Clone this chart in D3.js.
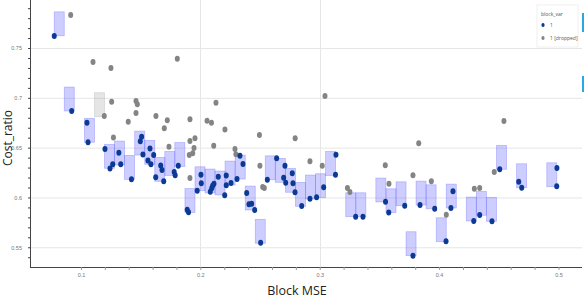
<!DOCTYPE html>
<html>
<head>
<meta charset="utf-8">
<script src="https://cdn.jsdelivr.net/npm/d3@7"></script>
<style>
  body { margin: 0; background: #fff; }
  svg { display: block; font-family: "Open Sans", sans-serif; }
</style>
</head>
<body>
<div id="vis"></div>
<script>
var width = 584,
    height = 298;

// tick labels
var xTicks = [0.1, 0.2, 0.3, 0.4, 0.5];
var yTicks = [0.55, 0.6, 0.65, 0.7, 0.75];

// bins: left edge (Block MSE) and lower Cost_ratio, dropped flag
var binX = [0.0776, 0.0860, 0.1113, 0.1029, 0.1197, 0.1281, 0.1365, 0.1450, 0.1534, 0.1618,
            0.1702, 0.1786, 0.1871, 0.1955, 0.2039, 0.2123, 0.2207, 0.2292, 0.2376, 0.2460,
            0.2544, 0.2628, 0.2713, 0.2797, 0.2881, 0.2965, 0.3049, 0.3218, 0.3302, 0.3470,
            0.3555, 0.3639, 0.3723, 0.3807, 0.3891, 0.3976, 0.4060, 0.4228, 0.4312, 0.4397,
            0.4481, 0.4649, 0.4902];
var binLo = [0.7623, 0.6868, 0.6811, 0.6554, 0.6293, 0.6326, 0.6182, 0.6426, 0.6333, 0.6162,
             0.6221, 0.6311, 0.5849, 0.6068, 0.6045, 0.6025, 0.6125, 0.6185, 0.5874, 0.5540,
             0.6178, 0.6152, 0.6052, 0.5911, 0.5985, 0.5998, 0.6221, 0.5807, 0.5807, 0.5955,
             0.5847, 0.5917, 0.5416, 0.5924, 0.5887, 0.5556, 0.5894, 0.5764, 0.5821, 0.5761,
             0.6283, 0.6098, 0.6108];
var binDropped = [2];
var binW = 0.0084, binH = 0.024;

// kept points (block_var = 1)
var keptX = [0.0776, 0.0922, 0.1050, 0.1059, 0.1201, 0.1243, 0.1266, 0.1317, 0.1333, 0.1423,
             0.1508, 0.1497, 0.1519, 0.1578, 0.1609, 0.1561, 0.1586, 0.1668, 0.1679, 0.1626,
             0.1693, 0.1781, 0.1789, 0.1815, 0.1890, 0.1901, 0.2005, 0.2008, 0.1974, 0.2114,
             0.2103, 0.2095, 0.2083, 0.2150, 0.2204, 0.2217, 0.2217, 0.2257, 0.2332, 0.2357,
             0.2307, 0.2388, 0.2407, 0.2430, 0.2455, 0.2505, 0.2561, 0.2639, 0.2709, 0.2698,
             0.2715, 0.2770, 0.2776, 0.2793, 0.2849, 0.2918, 0.2974, 0.3033, 0.3136, 0.3132,
             0.3301, 0.3362, 0.3551, 0.3578, 0.3712, 0.3781, 0.3840, 0.3963, 0.4058, 0.4116,
             0.4099, 0.4290, 0.4340, 0.4443, 0.4508, 0.4667, 0.4692, 0.4987, 0.4985];
var keptY = [0.7620, 0.6868, 0.6750, 0.6555, 0.6486, 0.6291, 0.6333, 0.6449, 0.6333, 0.6182,
             0.6610, 0.6564, 0.6431, 0.6491, 0.6426, 0.6371, 0.6333, 0.6321, 0.6276, 0.6202,
             0.6163, 0.6256, 0.6224, 0.6319, 0.5877, 0.5851, 0.6229, 0.6142, 0.6068, 0.6138,
             0.6118, 0.6092, 0.6058, 0.6208, 0.6023, 0.6221, 0.6123, 0.6145, 0.6419, 0.6336,
             0.6185, 0.6045, 0.5932, 0.5938, 0.5874, 0.5546, 0.6178, 0.6393, 0.6319, 0.6198,
             0.6148, 0.6243, 0.6142, 0.6052, 0.5914, 0.5988, 0.6002, 0.6102, 0.6428, 0.6228,
             0.5807, 0.5807, 0.5957, 0.5849, 0.5917, 0.5416, 0.5924, 0.5887, 0.5560, 0.6062,
             0.5894, 0.5764, 0.5824, 0.5761, 0.6283, 0.6158, 0.6098, 0.6296, 0.6112];

// dropped points
var dropX = [0.0914, 0.1101, 0.1251, 0.1807, 0.1195, 0.1257, 0.1461, 0.1472, 0.1461, 0.1396,
             0.1628, 0.1723, 0.1698, 0.1272, 0.1913, 0.2056, 0.2093, 0.2131, 0.2206, 0.1913,
             0.1955, 0.1737, 0.1947, 0.1936, 0.1907, 0.2112, 0.1913, 0.2495, 0.2794, 0.3044,
             0.2290, 0.2298, 0.2499, 0.2522, 0.2536, 0.2918, 0.3021, 0.3232, 0.3253, 0.3549,
             0.3580, 0.3829, 0.3781, 0.3935, 0.4060, 0.4295, 0.4340, 0.4462, 0.4543];
var dropY = [0.7831, 0.7360, 0.7299, 0.7393, 0.6818, 0.6961, 0.6968, 0.6935, 0.6848, 0.6760,
             0.6818, 0.6774, 0.6694, 0.6602, 0.6786, 0.6770, 0.6750, 0.6950, 0.6682, 0.6567,
             0.6594, 0.6510, 0.6497, 0.6443, 0.6426, 0.6520, 0.6195, 0.6627, 0.6594, 0.7018,
             0.6486, 0.6433, 0.6319, 0.6105, 0.6095, 0.6364, 0.6319, 0.6095, 0.6055, 0.6323,
             0.6138, 0.6544, 0.6222, 0.6162, 0.5827, 0.6088, 0.6095, 0.6256, 0.6767];

var legendTitle = "block_var";
var legendLabels = ["1", "1 [dropped]"];

var blue = "#0a3a94", grey = "#848484";

var svg = d3.select("#vis").append("svg")
    .attr("width", width)
    .attr("height", height);

var x = d3.scaleLinear().domain([0.0573, 0.5197]).range([30, 582]);
var y = d3.scaleLinear().domain([0.5302, 0.7982]).range([267, 0]);

//--------GRID--------//
svg.append("g").selectAll("line")
    .data(yTicks)
    .enter().append("line")
    .attr("x1", x.range()[0]).attr("x2", x.range()[1])
    .attr("y1", function(d) { return y(d) + 0.5; })
    .attr("y2", function(d) { return y(d) + 0.5; })
    .attr("stroke", "#e6e6e6");

svg.append("g").selectAll("line")
    .data([0.2, 0.3])
    .enter().append("line")
    .attr("x1", function(d) { return Math.round(x(d)) + 0.5; })
    .attr("x2", function(d) { return Math.round(x(d)) + 0.5; })
    .attr("y1", 0).attr("y2", 267)
    .attr("stroke", "#e6e6e6");

//--------BINS--------//
svg.append("g").selectAll("rect")
    .data(binX.map(function(d, i) { return {x: d, lo: binLo[i], dropped: binDropped.includes(i)}; }))
    .enter().append("rect")
    .attr("x", function(d) { return x(d.x); })
    .attr("y", function(d) { return y(d.lo + binH); })
    .attr("width", function(d) { return x(d.x + binW) - x(d.x); })
    .attr("height", function(d) { return y(d.lo) - y(d.lo + binH); })
    .attr("fill", function(d) { return d.dropped ? "rgba(150,150,150,0.25)" : "rgba(90,90,255,0.3)"; })
    .attr("stroke", function(d) { return d.dropped ? "rgba(150,150,150,0.3)" : "rgba(90,90,255,0.35)"; })
    .attr("stroke-width", 0.8);

//--------POINTS--------//
svg.append("g").selectAll("ellipse")
    .data(dropX.map(function(d, i) { return [d, dropY[i]]; }))
    .enter().append("ellipse")
    .attr("cx", function(d) { return x(d[0]); })
    .attr("cy", function(d) { return y(d[1]); })
    .attr("rx", 2.5).attr("ry", 3)
    .attr("fill", grey);

svg.append("g").selectAll("ellipse")
    .data(keptX.map(function(d, i) { return [d, keptY[i]]; }))
    .enter().append("ellipse")
    .attr("cx", function(d) { return x(d[0]); })
    .attr("cy", function(d) { return y(d[1]); })
    .attr("rx", 2.5).attr("ry", 3)
    .attr("fill", blue);

//--------AXES--------//
var xAxis = svg.append("g")
    .attr("transform", "translate(0,267)")
    .call(d3.axisBottom(x)
        .tickValues(d3.range(10, 51, 2).map(function(d) { return d / 100; }))
        .tickSize(3).tickPadding(3)
        .tickFormat(function(d) { return xTicks.some(function(t) { return Math.abs(t - d) < 1e-6; }) ? d3.format(".1f")(d) : ""; }));
xAxis.select(".domain").attr("stroke", "#444").attr("d", "M30,0.5H582");
xAxis.selectAll(".tick line").attr("stroke", "#999");
xAxis.selectAll(".tick text").attr("fill", "#777").style("font-size", "5.5px");

var yAxis = svg.append("g")
    .attr("transform", "translate(30,0)")
    .call(d3.axisLeft(y)
        .tickValues(d3.range(54, 80).map(function(d) { return d / 100; }))
        .tickSize(2).tickPadding(6)
        .tickFormat(function(d) { return yTicks.some(function(t) { return Math.abs(t - d) < 1e-6; }) ? d3.format(".2~f")(d) : ""; }));
yAxis.select(".domain").attr("stroke", "#444").attr("d", "M0.5,0V267");
yAxis.selectAll(".tick line").attr("stroke", "#444");
yAxis.selectAll(".tick text").attr("fill", "#777").style("font-size", "5.5px");

svg.append("text")
    .attr("x", 297).attr("y", 295)
    .attr("text-anchor", "middle")
    .attr("fill", "#222")
    .style("font-size", "12.5px")
    .text("Block MSE");

svg.append("text")
    .attr("transform", "translate(11.5,138) rotate(-90)")
    .attr("text-anchor", "middle")
    .attr("fill", "#222")
    .style("font-size", "12px")
    .text("Cost_ratio");

//--------LEGEND--------//
var legend = svg.append("g").attr("transform", "translate(537,5)");
legend.append("rect")
    .attr("width", 41).attr("height", 42)
    .attr("fill", "#fff").attr("stroke", "#f0f0f0");
legend.append("text")
    .attr("x", 4).attr("y", 11)
    .attr("fill", "#555").style("font-size", "5px")
    .text(legendTitle);
legend.selectAll(".item")
    .data(legendLabels)
    .enter().append("g")
    .attr("class", "item")
    .attr("transform", function(d, i) { return "translate(0," + (20 + i * 13) + ")"; })
    .each(function(d, i) {
        var g = d3.select(this);
        g.append("ellipse").attr("cx", 6).attr("cy", 0).attr("rx", 1.6).attr("ry", 2)
            .attr("fill", i ? grey : blue);
        g.append("text").attr("x", 13).attr("y", 2)
            .attr("fill", "#555").style("font-size", "5px")
            .text(d);
    });

// window edge strips
svg.append("g").selectAll("rect")
    .data([[13, 32], [76, 92]])
    .enter().append("rect")
    .attr("x", 582).attr("width", 2)
    .attr("y", function(d) { return d[0]; })
    .attr("height", function(d) { return d[1] - d[0]; })
    .attr("fill", "#2aa8e2");
</script>
</body>
</html>
